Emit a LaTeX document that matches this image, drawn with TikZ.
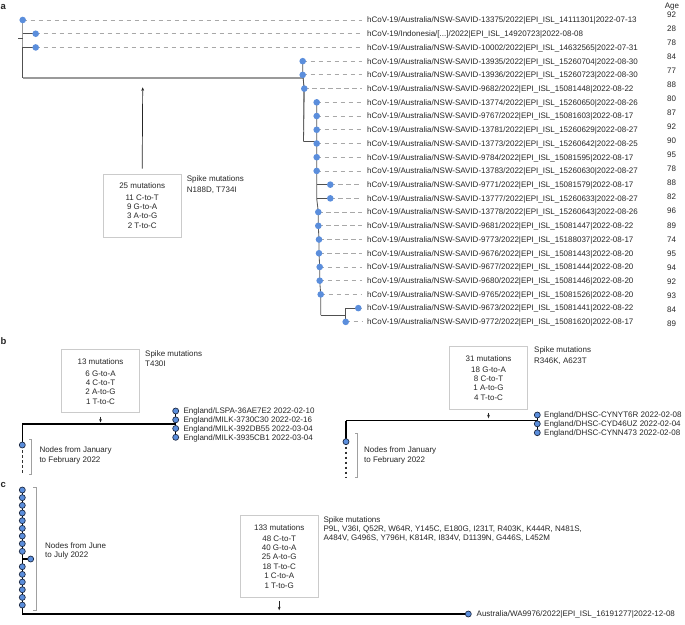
\documentclass[tikz,border=0pt]{standalone}
\usepackage{fontspec}
\setmainfont{Liberation Sans}
\usetikzlibrary{arrows.meta,backgrounds}
\definecolor{nodeblue}{HTML}{5B8EDC}
\definecolor{nodeedge}{HTML}{1E2B45}
\definecolor{txt}{HTML}{262626}
\definecolor{graybr}{HTML}{9A9A9A}
\definecolor{darkbr}{HTML}{505050}
\definecolor{leadc}{HTML}{A8A8A8}
\definecolor{boxc}{HTML}{CBCBCB}
\definecolor{brkc}{HTML}{A0A0A0}
\newcommand\aleaf[4]{%
  \pgfmathsetmacro\ry{20+13.72*(#1-1)}%
  \pgfmathsetmacro\ay{15+14.01*(#1-1)}%
  \node[anode] (n#1) at (#2,\ry) {};
  \coordinate (e#1) at (362,\ry);
  \node[tl, anchor=west] (l#1) at (367,\ry) {#3};
  \node[tl] (g#1) at (671.5,\ay) {#4};
  \begin{pgfonlayer}{background}\draw[leader] (n#1.center) -- (e#1);\end{pgfonlayer}
}
\begin{document}
\begin{tikzpicture}[x=1pt,y=-1pt, font=\fontsize{8}{9.5}\selectfont, text=txt,
  anode/.style={circle, fill=nodeblue, inner sep=0, minimum size=6.6},
  bnode/.style={circle, fill=nodeblue, draw=nodeedge, line width=0.7, inner sep=0, minimum size=6},
  tl/.style={inner sep=0, text height=5.7, text depth=0},
  leader/.style={draw=leadc, line width=0.8, dash pattern=on 4.5 off 3.5},
  gbr/.style={draw=graybr, line width=1.4},
  dbr/.style={draw=darkbr, line width=0.8},
  bline/.style={draw=black, line width=1.1},
  bdash/.style={draw=black!80, line width=1.1, dash pattern=on 2.6 off 2.4},
  brk/.style={draw=brkc, line width=0.7},
  arr/.style={draw=black!85, line width=0.7, -{Stealth[length=3.5pt,width=2.8pt]}},
  mutbox/.style={draw=boxc, line width=1, minimum width=78, inner sep=0, align=center, font=\fontsize{8}{9.4}\selectfont},
  spk/.style={anchor=west, align=left, inner sep=0},
  letter/.style={anchor=west, inner sep=0, font=\bfseries\fontsize{9.5}{10}\selectfont}]
\useasboundingbox (0,0) rectangle (685,624);

% ---------- panel a ----------
\node[letter] (la) at (0.5,6.7) {a};
\node[tl] (agehdr) at (672,5.5) {Age};
\aleaf{1}{22.7}{hCoV-19/Australia/NSW-SAVID-13375/2022|EPI\_ISL\_14111301|2022-07-13}{92}
\aleaf{2}{35.7}{hCoV-19/Indonesia/[...]/2022|EPI\_ISL\_14920723|2022-08-08}{28}
\aleaf{3}{35.7}{hCoV-19/Australia/NSW-SAVID-10002/2022|EPI\_ISL\_14632565|2022-07-31}{78}
\aleaf{4}{302.7}{hCoV-19/Australia/NSW-SAVID-13935/2022|EPI\_ISL\_15260704|2022-08-30}{84}
\aleaf{5}{302.7}{hCoV-19/Australia/NSW-SAVID-13936/2022|EPI\_ISL\_15260723|2022-08-30}{77}
\aleaf{6}{304.3}{hCoV-19/Australia/NSW-SAVID-9682/2022|EPI\_ISL\_15081448|2022-08-22}{88}
\aleaf{7}{316.7}{hCoV-19/Australia/NSW-SAVID-13774/2022|EPI\_ISL\_15260650|2022-08-26}{80}
\aleaf{8}{316.7}{hCoV-19/Australia/NSW-SAVID-9767/2022|EPI\_ISL\_15081603|2022-08-17}{87}
\aleaf{9}{316.7}{hCoV-19/Australia/NSW-SAVID-13781/2022|EPI\_ISL\_15260629|2022-08-27}{92}
\aleaf{10}{316.7}{hCoV-19/Australia/NSW-SAVID-13773/2022|EPI\_ISL\_15260642|2022-08-25}{90}
\aleaf{11}{316.7}{hCoV-19/Australia/NSW-SAVID-9784/2022|EPI\_ISL\_15081595|2022-08-17}{95}
\aleaf{12}{316.7}{hCoV-19/Australia/NSW-SAVID-13783/2022|EPI\_ISL\_15260630|2022-08-27}{78}
\aleaf{13}{330.3}{hCoV-19/Australia/NSW-SAVID-9771/2022|EPI\_ISL\_15081579|2022-08-17}{88}
\aleaf{14}{330.3}{hCoV-19/Australia/NSW-SAVID-13777/2022|EPI\_ISL\_15260633|2022-08-27}{82}
\aleaf{15}{318.3}{hCoV-19/Australia/NSW-SAVID-13778/2022|EPI\_ISL\_15260643|2022-08-26}{96}
\aleaf{16}{318.3}{hCoV-19/Australia/NSW-SAVID-9681/2022|EPI\_ISL\_15081447|2022-08-22}{89}
\aleaf{17}{319}{hCoV-19/Australia/NSW-SAVID-9773/2022|EPI\_ISL\_15188037|2022-08-17}{74}
\aleaf{18}{319}{hCoV-19/Australia/NSW-SAVID-9676/2022|EPI\_ISL\_15081443|2022-08-20}{95}
\aleaf{19}{319.7}{hCoV-19/Australia/NSW-SAVID-9677/2022|EPI\_ISL\_15081444|2022-08-20}{94}
\aleaf{20}{319.7}{hCoV-19/Australia/NSW-SAVID-9680/2022|EPI\_ISL\_15081446|2022-08-20}{92}
\aleaf{21}{320.7}{hCoV-19/Australia/NSW-SAVID-9765/2022|EPI\_ISL\_15081526|2022-08-20}{93}
\aleaf{22}{358.3}{hCoV-19/Australia/NSW-SAVID-9673/2022|EPI\_ISL\_15081441|2022-08-22}{84}
\aleaf{23}{345.7}{hCoV-19/Australia/NSW-SAVID-9772/2022|EPI\_ISL\_15081620|2022-08-17}{89}

\coordinate (a0) at (22.7,78);
\coordinate (a0m) at (22.7,47.4);
\coordinate (tk) at (18,38);
\coordinate (tkE) at (22.7,38);
\coordinate (b0) at (303.5,78);
\coordinate (b0g) at (303.5,130);
\coordinate (b1) at (303.5,141.7);
\coordinate (c0) at (316.7,141.7);
\coordinate (c14) at (316.7,198.4);
\coordinate (c22) at (320.7,315);
\coordinate (d0) at (345.7,315);

\node[mutbox, minimum height=63.3] (boxA) at (142.2,205.7)
  {25 mutations\\[1.8pt]11 C-to-T\\9 G-to-A\\3 A-to-G\\2 T-to-C};
\coordinate (arrA) at (142.7,87.3);
\node[spk, font=\fontsize{8}{10.7}\selectfont] (spA) at (186.7,184.8) {Spike mutations\\N188D, T734I};

\begin{pgfonlayer}{background}
\draw[gbr] (n1.center) -- (a0);
\draw[dbr] (a0m) -- (a0);
\draw[dbr] (tk) -- (tkE);
\draw[dbr] (n2 -| a0) -- (n2.center);
\draw[dbr] (n3 -| a0) -- (n3.center);
\draw[gbr] (a0) -- (b0);
\draw[gbr] (b0) -- (b0g);
\draw[dbr] (n4.center) -- (n5.center) -- (n6.center) -- (b1);
\draw[dbr] (b1) -- (c0);
\draw[draw=black!65, line width=0.85] (n7.center) -- (n12.center) -- (c14) -- (n15.center) -- (n16.center) -- (n17.center) -- (n18.center) -- (n19.center) -- (n20.center) -- (n21.center) -- (c22);
\draw[dbr] (n13 -| c0) -- (n13.center);
\draw[dbr] (n14 -| c0) -- (n14.center);
\draw[dbr] (c22) -- (d0);
\draw[dbr] (n22 -| d0) -- (n22.center);
\draw[dbr] (n22 -| d0) -- (n23.center);
\end{pgfonlayer}
\draw[arr] ([yshift=5pt]boxA.north) -- (arrA);

% ---------- panel b ----------
\node[letter] (lb) at (0.5,340.7) {b};
% left
\node[mutbox, minimum height=62.7] (bL) at (100.5,381.3)
  {13 mutations\\[2.5pt]6 G-to-A\\4 C-to-T\\2 A-to-G\\1 T-to-C};
\node[spk, font=\fontsize{8}{9.4}\selectfont] (spBL) at (145,358.8) {Spike mutations\\T430I};
\coordinate (bLa) at (100.5,422.5);
\draw[arr] ([yshift=-3.5pt]bL.south) -- (bLa);
\coordinate (bh0) at (22.3,424);
\coordinate (bh1) at (175.7,424);
\node[bnode] (bl1) at (175.7,411) {};
\node[bnode] (bl2) at (175.7,419.8) {};
\node[bnode] (bl3) at (175.7,428.5) {};
\node[bnode] (bl4) at (175.7,437.3) {};
\node[tl, anchor=west] (tbl1) at (183.3,411) {England/LSPA-36AE7E2 2022-02-10};
\node[tl, anchor=west] (tbl2) at (183.3,419.8) {England/MILK-3730C30 2022-02-16};
\node[tl, anchor=west] (tbl3) at (183.3,428.5) {England/MILK-392DB55 2022-03-04};
\node[tl, anchor=west] (tbl4) at (183.3,437.3) {England/MILK-3935CB1 2022-03-04};
\node[bnode] (bL0) at (22.3,445) {};
\coordinate (bLd) at (22.3,474);
\draw[brk] (29.3,439) -- (31.7,439) -- (31.7,474) -- (29.3,474);
\node[spk, font=\fontsize{8}{9.6}\selectfont] (nbL) at (39.3,455.6) {Nodes from January\\to February 2022};
\begin{pgfonlayer}{background}
\draw[bline] (bh0) -- (bh1);
\draw[bline] (bl1.center) -- (bl4.center);
\draw[bline] (bh0) -- (bL0.center);
\draw[bdash] (bL0.center) -- (bLd);
\end{pgfonlayer}
% right
\node[mutbox, minimum height=62.6] (bR) at (488.5,378)
  {31 mutations\\[1.2pt]18 G-to-A\\8 C-to-T\\1 A-to-G\\4 T-to-C};
\node[spk, font=\fontsize{8}{10.7}\selectfont] (spBR) at (534,355.4) {Spike mutations\\R346K, A623T};
\coordinate (bRa) at (488.5,418.3);
\draw[arr] ([yshift=-3pt]bR.south) -- (bRa);
\coordinate (bk0) at (346,420.7);
\coordinate (bk1) at (537.3,420.7);
\node[bnode] (br1) at (537.3,415) {};
\node[bnode] (br2) at (537.3,423.8) {};
\node[bnode] (br3) at (537.3,432.7) {};
\node[tl, anchor=west] (tbr1) at (544,415) {England/DHSC-CYNYT6R 2022-02-08};
\node[tl, anchor=west] (tbr2) at (544,423.8) {England/DHSC-CYD46UZ 2022-02-04};
\node[tl, anchor=west] (tbr3) at (544,432.7) {England/DHSC-CYNN473 2022-02-08};
\node[bnode] (bR0) at (346,441.7) {};
\coordinate (bRd) at (346,478.3);
\draw[brk] (355,433.3) -- (357.3,433.3) -- (357.3,477.3) -- (355,477.3);
\node[spk, font=\fontsize{8}{9.6}\selectfont] (nbR) at (364,455.6) {Nodes from January\\to February 2022};
\begin{pgfonlayer}{background}
\draw[bline] (bk0) -- (bk1);
\draw[bline] (br1.center) -- (br3.center);
\draw[bline] (bk0) -- (bR0.center);
\draw[bdash] (bR0.center) -- (bRd);
\end{pgfonlayer}

% ---------- panel c ----------
\node[letter] (lc) at (0.5,485) {c};
\foreach \k in {0,...,8,10,11,12,13,14,15}{
  \node[bnode] (cn\k) at (22.3,490+7.67*\k) {};
}
\node[bnode] (cs) at (30.7,559) {};
\coordinate (ccorner) at (22.3,614);
\node[bnode] (cleaf) at (468.3,614) {};
\node[tl, anchor=west] (tcleaf) at (476.5,614) {Australia/WA9976/2022|EPI\_ISL\_16191277|2022-12-08};
\draw[brk] (33,487) -- (36.7,487) -- (36.7,610) -- (33,610);
\node[spk, font=\fontsize{8}{9.6}\selectfont] (ncT) at (45,551) {Nodes from June\\to July 2022};
\node[mutbox, minimum height=82.3] (bC) at (279.2,556.2)
  {133 mutations\\[1.5pt]48 C-to-T\\40 G-to-A\\25 A-to-G\\18 T-to-C\\1 C-to-A\\1 T-to-G};
\coordinate (cArr) at (279.2,610.3);
\draw[arr] ([yshift=-3pt]bC.south) -- (cArr);
\node[spk, font=\fontsize{8}{8.9}\selectfont] (spC) at (323.3,529.5) {Spike mutations\\P9L, V36I, Q52R, W64R, Y145C, E180G, I231T, R403K, K444R, N481S,\\A484V, G496S, Y796H, K814R, I834V, D1139N, G446S, L452M};
\begin{pgfonlayer}{background}
\draw[bline] (cn0.center) -- (ccorner) -- (cleaf.center);
\draw[bline] (cs -| ccorner) -- (cs.center);
\end{pgfonlayer}
\end{tikzpicture}
\end{document}
